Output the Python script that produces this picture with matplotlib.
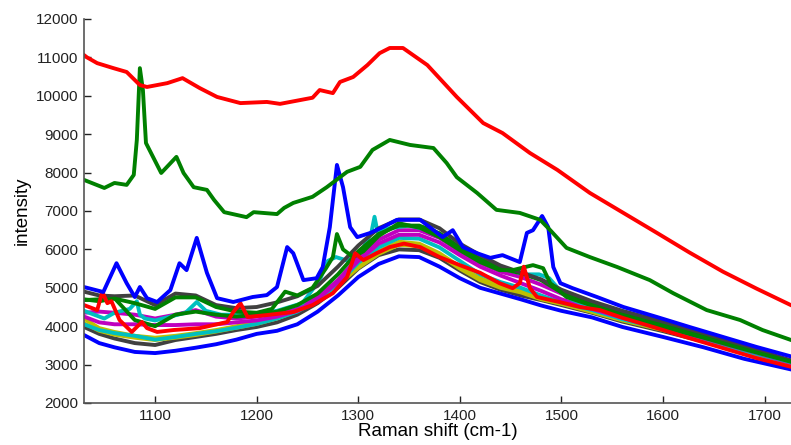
import matplotlib
matplotlib.use("Agg")
import matplotlib.pyplot as plt

plt.rcParams['font.family'] = ['Liberation Sans', 'DejaVu Sans']

# Raman spectra (cm-1 / counts)
x_red_top = [1030, 1033, 1043, 1059, 1072, 1085, 1092, 1112, 1127, 1144, 1161, 1184, 1210, 1223,
             1243, 1255, 1262, 1275, 1282, 1295, 1309, 1321, 1331, 1344, 1368, 1397, 1423, 1442,
             1469, 1496, 1528, 1561, 1594, 1626, 1659, 1692, 1725]
y_red_top = [11060, 11000, 10850, 10720, 10620, 10280, 10230, 10330, 10460, 10200, 9970, 9810, 9840, 9790,
             9890, 9950, 10150, 10070, 10360, 10490, 10800, 11110, 11245, 11245, 10800, 9970, 9290, 9030,
             8510, 8070, 7470, 6950, 6430, 5920, 5420, 4980, 4560]

x_green_top = [1030, 1050, 1060, 1072, 1079, 1082, 1085, 1088, 1091, 1096, 1106, 1121, 1128, 1138, 1151,
               1158, 1168, 1190, 1197, 1220, 1227, 1236, 1255, 1269, 1289, 1302, 1314, 1331, 1351, 1374,
               1387, 1397, 1417, 1436, 1459, 1479, 1489, 1505, 1528, 1555, 1587, 1610, 1643, 1676, 1698, 1725]
y_green_top = [7810, 7600, 7730, 7680, 7940, 8850, 10720, 10150, 8770, 8510, 7990, 8410, 7990, 7620, 7550,
               7290, 6970, 6840, 6970, 6920, 7080, 7210, 7370, 7620, 8020, 8150, 8590, 8850, 8720, 8640,
               8250, 7880, 7470, 7030, 6950, 6770, 6500, 6040, 5800, 5540, 5200, 4860, 4420, 4160, 3900, 3650]

x_blue_peaks = [1030, 1049, 1062, 1072, 1080, 1085, 1092, 1102, 1115, 1124, 1131, 1141, 1151, 1161, 1177,
                1196, 1210, 1220, 1230, 1236, 1246, 1259, 1265, 1272, 1279, 1285, 1292, 1299, 1312, 1324,
                1338, 1361, 1383, 1393, 1403, 1417, 1430, 1442, 1459, 1466, 1472, 1481, 1487, 1492, 1499,
                1511, 1535, 1561, 1594, 1626, 1659, 1692, 1725]
y_blue_peaks = [5020, 4890, 5640, 5120, 4760, 5020, 4730, 4630, 4940, 5640, 5460, 6300, 5390, 4730, 4630,
                4760, 4810, 5020, 6060, 5900, 5200, 5250, 5540, 6580, 8200, 7620, 6580, 6320, 6430, 6580,
                6770, 6770, 6320, 6500, 6060, 5900, 5780, 5850, 5670, 6430, 6500, 6870, 6580, 5540, 5120,
                4990, 4760, 4500, 4240, 3980, 3720, 3460, 3220]

x_red_peaks = [1030, 1040, 1043, 1048, 1053, 1057, 1065, 1077, 1087, 1092, 1102, 1118, 1144, 1171, 1177,
               1184, 1191, 1210, 1236, 1255, 1275, 1289, 1297, 1305, 1318, 1331, 1345, 1361, 1380, 1400,
               1420, 1439, 1452, 1459, 1463, 1469, 1476, 1498, 1518, 1538, 1561, 1594, 1626, 1659, 1692, 1725]
y_red_peaks = [4550, 4450, 4420, 4890, 4600, 4650, 4160, 3850, 4110, 3950, 3850, 3900, 3950, 4110, 4370,
               4600, 4240, 4290, 4370, 4550, 4860, 5280, 5900, 5720, 5900, 6060, 6150, 6060, 5800, 5590,
               5390, 5120, 4990, 5120, 5550, 4990, 4760, 4630, 4500, 4420, 4210, 3950, 3690, 3430, 3170, 2950]

x_green_mid = [1030, 1045, 1060, 1080, 1100, 1120, 1140, 1160, 1180, 1200, 1215, 1228, 1240, 1255, 1268,
               1275, 1279, 1285, 1295, 1305, 1320, 1340, 1361, 1380, 1400, 1420, 1439, 1452, 1472, 1482,
               1489, 1505, 1540, 1570, 1600, 1640, 1680, 1725]
y_green_mid = [4700, 4650, 4720, 4600, 4450, 4750, 4750, 4500, 4380, 4350, 4450, 4900, 4800, 5000, 5500,
               5800, 6400, 6000, 5800, 5950, 6350, 6680, 6560, 6320, 5980, 5670, 5460, 5460, 5590, 5510,
               5120, 4760, 4450, 4200, 3980, 3700, 3400, 3080]

x_cyan_peaks = [1030, 1040, 1050, 1060, 1075, 1082, 1085, 1090, 1100, 1115, 1130, 1141, 1150, 1165, 1190,
                1220, 1245, 1262, 1270, 1278, 1290, 1305, 1313, 1316, 1319, 1330, 1350, 1370, 1390, 1410,
                1430, 1450, 1465, 1478, 1488, 1498, 1510, 1530, 1560, 1600, 1640, 1680, 1725]
y_cyan_peaks = [4400, 4300, 4200, 4350, 4450, 4650, 4300, 4200, 4150, 4250, 4350, 4630, 4400, 4300, 4300,
                4400, 4600, 5200, 5700, 5800, 5700, 6050, 6450, 6850, 6450, 6550, 6620, 6500, 6200, 5850,
                5600, 5450, 5350, 5350, 5250, 4950, 4700, 4500, 4250, 3980, 3720, 3400, 3070]

# the broad-band spectra share one set of x positions
x_band = [1030, 1045, 1060, 1080, 1100, 1120, 1140, 1160, 1180, 1200, 1220, 1240, 1260, 1280, 1300, 1320,
          1340, 1360, 1380, 1400, 1420, 1440, 1460, 1480, 1500, 1530, 1560, 1600, 1640, 1680, 1725]
gray_top = [4900, 4800, 4780, 4800, 4550, 4850, 4800, 4550, 4470, 4500, 4620, 4780, 5050, 5550, 6100, 6550,
            6780, 6780, 6550, 6150, 5850, 5580, 5400, 5220, 4950, 4650, 4400, 4120, 3820, 3480, 3120]
gray_low = [3980, 3800, 3680, 3560, 3510, 3640, 3720, 3800, 3900, 3980, 4100, 4300, 4600, 5000, 5500, 5850,
            6000, 5980, 5780, 5450, 5150, 4950, 4800, 4680, 4550, 4350, 4120, 3870, 3600, 3300, 3000]
blue_low = [3770, 3560, 3450, 3330, 3300, 3360, 3440, 3530, 3650, 3800, 3880, 4050, 4380, 4800, 5280, 5620,
            5820, 5800, 5550, 5250, 5000, 4850, 4700, 4540, 4400, 4230, 3980, 3720, 3450, 3150, 2880]
yellow_a = [4200, 3950, 3850, 3750, 3700, 3750, 3820, 3900, 4000, 4100, 4250, 4450, 4750, 5150, 5600, 5950,
            6200, 6150, 5900, 5550, 5250, 5050, 4950, 4750, 4620, 4400, 4180, 3920, 3650, 3350, 3020]
yellow_b = [4080, 3880, 3780, 3700, 3640, 3700, 3770, 3860, 3960, 4060, 4200, 4400, 4700, 5080, 5520, 5880,
            6120, 6080, 5850, 5500, 5200, 5000, 4880, 4700, 4580, 4370, 4150, 3900, 3630, 3330, 3010]
cyan_low = [4050, 3900, 3820, 3750, 3650, 3720, 3800, 3870, 3960, 4060, 4200, 4380, 4680, 5100, 5650, 6050,
            6300, 6280, 6050, 5700, 5350, 5150, 5000, 4800, 4620, 4420, 4180, 3930, 3660, 3360, 3040]
magenta_a = [4350, 4380, 4350, 4300, 4200, 4300, 4420, 4250, 4200, 4250, 4320, 4450, 4750, 5200, 5800, 6250,
             6500, 6500, 6300, 5950, 5650, 5420, 5280, 5080, 4850, 4560, 4300, 4020, 3750, 3420, 3080]
magenta_b = [4250, 4100, 4050, 4050, 4030, 4030, 4050, 4050, 4100, 4150, 4250, 4400, 4700, 5150, 5700, 6150,
             6380, 6380, 6180, 5850, 5550, 5320, 5120, 4920, 4700, 4450, 4220, 3960, 3690, 3390, 3050]
green_dip = [4680, 4700, 4730, 4160, 4000, 4300, 4380, 4300, 4250, 4300, 4380, 4550, 4850, 5350, 5950, 6400,
             6620, 6620, 6420, 6050, 5750, 5500, 5380, 5200, 4880, 4600, 4350, 4050, 3780, 3450, 3100]

B = (0, 0, 1)
G = (0, 0.5, 0)
R = (1, 0, 0)
C = (0, 0.75, 0.75)
M = (0.75, 0, 0.75)
Y = (0.75, 0.75, 0)
K = (0.25, 0.25, 0.25)

series = [
    (x_band, gray_low, K),
    (x_band, blue_low, B),
    (x_band, yellow_b, Y),
    (x_band, yellow_a, Y),
    (x_band, cyan_low, C),
    (x_band, magenta_b, M),
    (x_band, magenta_a, M),
    (x_cyan_peaks, y_cyan_peaks, C),
    (x_band, green_dip, G),
    (x_band, gray_top, K),
    (x_green_mid, y_green_mid, G),
    (x_red_peaks, y_red_peaks, R),
    (x_blue_peaks, y_blue_peaks, B),
    (x_green_top, y_green_top, G),
    (x_red_top, y_red_top, R),
]

fig = plt.figure(figsize=(7.91, 4.45), dpi=100)
ax = fig.add_axes([84 / 791, 1 - 403 / 445, 1 - 84 / 791, (403 - 19) / 445])

for xs, ys, col in series:
    ax.plot(xs, ys, color=col, linewidth=2.8, solid_joinstyle='round')

ax.set_xlim(1030, 1726)
ax.set_ylim(2000, 12000)
ax.set_xticks(range(1100, 1701, 100))
ax.set_yticks(range(2000, 12001, 1000))
ax.tick_params(direction='in', length=5, width=1, labelsize=11, colors='#222222', pad=4)
for side in ['top', 'right']:
    ax.spines[side].set_visible(False)
for side in ['left', 'bottom']:
    ax.spines[side].set_color('#555555')
    ax.spines[side].set_linewidth(1.2)

ax.set_xlabel("Raman shift (cm-1)", fontsize=13.5, labelpad=0)
ax.set_ylabel("intensity", fontsize=13.5, labelpad=4)

fig.savefig("out.png", dpi=100)
